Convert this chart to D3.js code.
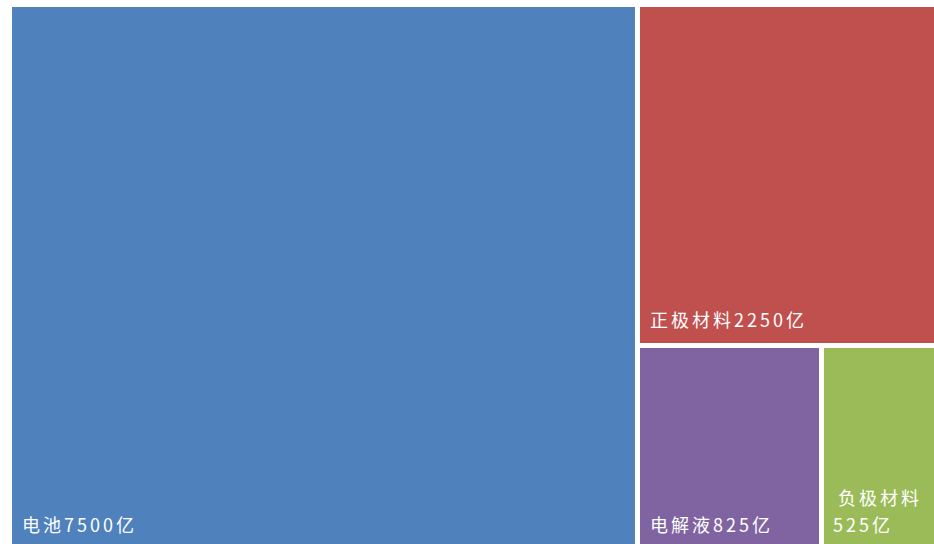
<!DOCTYPE html>
<html>
<head>
<meta charset="utf-8">
<script src="https://cdn.jsdelivr.net/npm/d3@7"></script>
<style>
  html, body { margin: 0; padding: 0; background: #ffffff; overflow: hidden; }
  svg { display: block; }
  text { font-family: "Noto Sans CJK SC", "Noto Sans", sans-serif; fill: #ffffff; }
</style>
</head>
<body>
<svg id="chart" width="934" height="544"></svg>
<script>
// 锂电池产业链市场规模（亿元）
const names  = ["电池", "正极材料", "电解液", "负极材料"];
const values = [7500, 2250, 825, 525];
const unit   = "亿";
const colors = ["#4F81BD", "#C0504D", "#8064A2", "#9BBB59"];

const svg = d3.select("#chart");
const margin = { left: 12, top: 7 };
const width = 924, height = 541;

const root = d3.hierarchy({
  children: names.map((n, i) => ({ name: n, value: values[i], color: colors[i] }))
}).sum(d => d.value || 0);

d3.treemap()
  .tile(d3.treemapBinary)
  .size([width, height])
  .paddingInner(5)
  .round(true)(root);

const g = svg.append("g").attr("transform", `translate(${margin.left},${margin.top})`);

const cell = g.selectAll("g.cell")
  .data(root.leaves())
  .join("g")
  .attr("class", "cell")
  .attr("transform", d => `translate(${d.x0},${d.y0})`);

cell.append("rect")
  .attr("width", d => d.x1 - d.x0)
  .attr("height", d => d.y1 - d.y0)
  .attr("fill", d => d.data.color);

const fontSize = 18, spacing = 3, lineGap = 27;

cell.each(function (d) {
  const sel = d3.select(this);
  const w = d.x1 - d.x0, h = d.y1 - d.y0;
  const label = d.data.name + d.data.value + unit;
  const t = sel.append("text")
    .attr("font-size", fontSize)
    .attr("letter-spacing", spacing)
    .attr("x", 10)
    .attr("y", h - 16)
    .text(label);
  // Wrap onto two lines when the label does not fit the cell
  if (t.node().getComputedTextLength() > w - 14) {
    t.text(null);
    t.append("tspan").attr("x", 14).attr("y", h - 16 - lineGap).text(d.data.name);
    t.append("tspan").attr("x", 9).attr("y", h - 16).text(d.data.value + unit);
  }
});
</script>
</body>
</html>
